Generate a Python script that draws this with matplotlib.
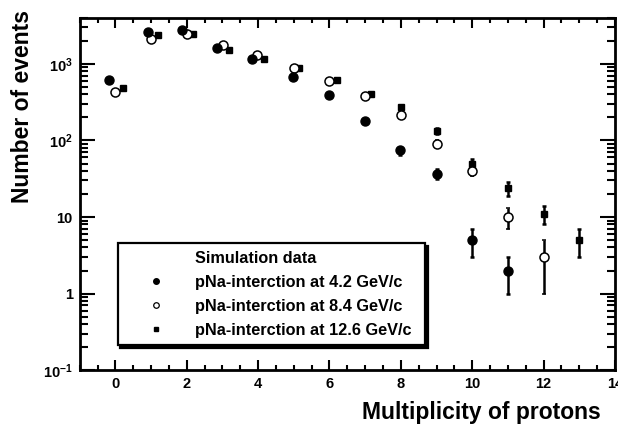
import numpy as np
import matplotlib
matplotlib.use("Agg")
import matplotlib.pyplot as plt
from matplotlib.lines import Line2D
from matplotlib.ticker import FixedLocator, LogLocator, MultipleLocator, NullFormatter

plt.rcParams['font.family'] = ['Liberation Sans', 'DejaVu Sans']
plt.rcParams['font.weight'] = 'bold'
plt.rcParams['mathtext.fontset'] = 'custom'
plt.rcParams['mathtext.rm'] = 'Liberation Sans:bold'
plt.rcParams['mathtext.it'] = 'Liberation Sans:bold'
plt.rcParams['mathtext.bf'] = 'Liberation Sans:bold'

# pNa at 4.2 GeV/c (filled circles)
x_42 = [-0.17, 0.9, 1.88, 2.86, 3.84, 4.99, 6.0, 7.0, 7.98, 9.0, 10.0, 11.0]
n_42 = [617, 2640, 2800, 1620, 1160, 674, 390, 178, 74, 37, 5, 2]
e_42 = [25, 51, 53, 40, 34, 26, 20, 13, 9, 6, 2, 1]

# pNa at 8.4 GeV/c (open circles)
x_84 = [0.0, 1.0, 2.0, 3.02, 3.98, 5.0, 6.0, 7.0, 8.0, 9.0, 10.0, 11.0, 12.0]
n_84 = [430, 2130, 2470, 1780, 1310, 885, 600, 380, 214, 91, 40, 10, 3]
e_84 = [21, 46, 50, 42, 36, 30, 24, 19, 15, 10, 6, 3, 2]

# pNa at 12.6 GeV/c (squares)
x_126 = [0.2, 1.2, 2.18, 3.17, 4.17, 5.15, 6.2, 7.17, 8.0, 9.0, 10.0, 11.0, 12.0, 13.0]
n_126 = [483, 2410, 2460, 1530, 1160, 885, 610, 400, 272, 134, 50, 24, 11, 5]
e_126 = [22, 49, 50, 39, 34, 30, 25, 20, 16, 12, 7, 5, 3, 2]

legend_title = "Simulation data"
labels = ["pNa-interction at 4.2 GeV/c",
          "pNa-interction at 8.4 GeV/c",
          "pNa-interction at 12.6 GeV/c"]

y_ticks = [0.1, 1, 10, 100, 1000]
y_ticklabels = ['$10^{-1}$', '1', '10', '$10^{2}$', '$10^{3}$']

fig = plt.figure(figsize=(6.18, 4.24), dpi=100)
ax = fig.add_axes([0.129, 0.127, 0.866, 0.831])

eb = dict(linestyle='none', ecolor='black', elinewidth=1.8, capsize=1.6, capthick=1.8, zorder=3)
ax.errorbar(x_126, n_126, yerr=e_126, marker='s', ms=5, mfc='black', mec='black', **eb)
ax.errorbar(x_84, n_84, yerr=e_84, marker='o', ms=6.5, mfc='white', mec='black', mew=1.1, **eb)
ax.errorbar(x_42, n_42, yerr=e_42, marker='o', ms=6.5, mfc='black', mec='black', **eb)

ax.set_yscale('log')
ax.set_xlim(-1, 14)
ax.set_ylim(0.1, 4000)

ax.xaxis.set_major_locator(MultipleLocator(2))
ax.xaxis.set_minor_locator(MultipleLocator(0.5))
ax.yaxis.set_major_locator(FixedLocator(y_ticks))
ax.yaxis.set_minor_locator(LogLocator(base=10, subs=np.arange(2, 10)))
ax.yaxis.set_minor_formatter(NullFormatter())
ax.set_yticklabels(y_ticklabels)

ax.tick_params(which='both', direction='in', top=True, right=True, width=1.5,
               labelsize=10.5, pad=5)
ax.tick_params(axis='x', which='major', length=7)
ax.tick_params(axis='x', which='minor', length=3.5)
ax.tick_params(axis='y', which='major', length=11)
ax.tick_params(axis='y', which='minor', length=5.5)
for lbl in ax.get_xticklabels() + ax.get_yticklabels():
    lbl.set_fontweight('bold')
for s in ax.spines.values():
    s.set_linewidth(2)

fig.text(0.036, 0.976, "Number of events", rotation=90, ha='center', va='top',
         fontsize=16.5, fontweight='bold')
fig.text(0.972, 0.026, "Multiplicity of protons", ha='right', va='center',
         fontsize=16.5, fontweight='bold')

handles = [Line2D([], [], linestyle='none'),
           Line2D([], [], linestyle='none', marker='o', ms=4, mfc='black', mec='black'),
           Line2D([], [], linestyle='none', marker='o', ms=4, mfc='white', mec='black', mew=0.9),
           Line2D([], [], linestyle='none', marker='s', ms=3, mfc='black', mec='black')]
leg = ax.legend(handles, [legend_title] + labels, loc='lower left',
                bbox_to_anchor=(0.071, 0.071, 0.574, 0.295), mode='expand',
                borderaxespad=0, prop={'size': 11.7, 'weight': 'bold'},
                handlelength=3.75, handletextpad=0.58, labelspacing=0.56,
                borderpad=0.45, fancybox=False, framealpha=1, edgecolor='black',
                shadow={'color': 'black', 'alpha': 1})
leg.get_frame().set_linewidth(1.6)

fig.savefig("out.png", dpi=100)
